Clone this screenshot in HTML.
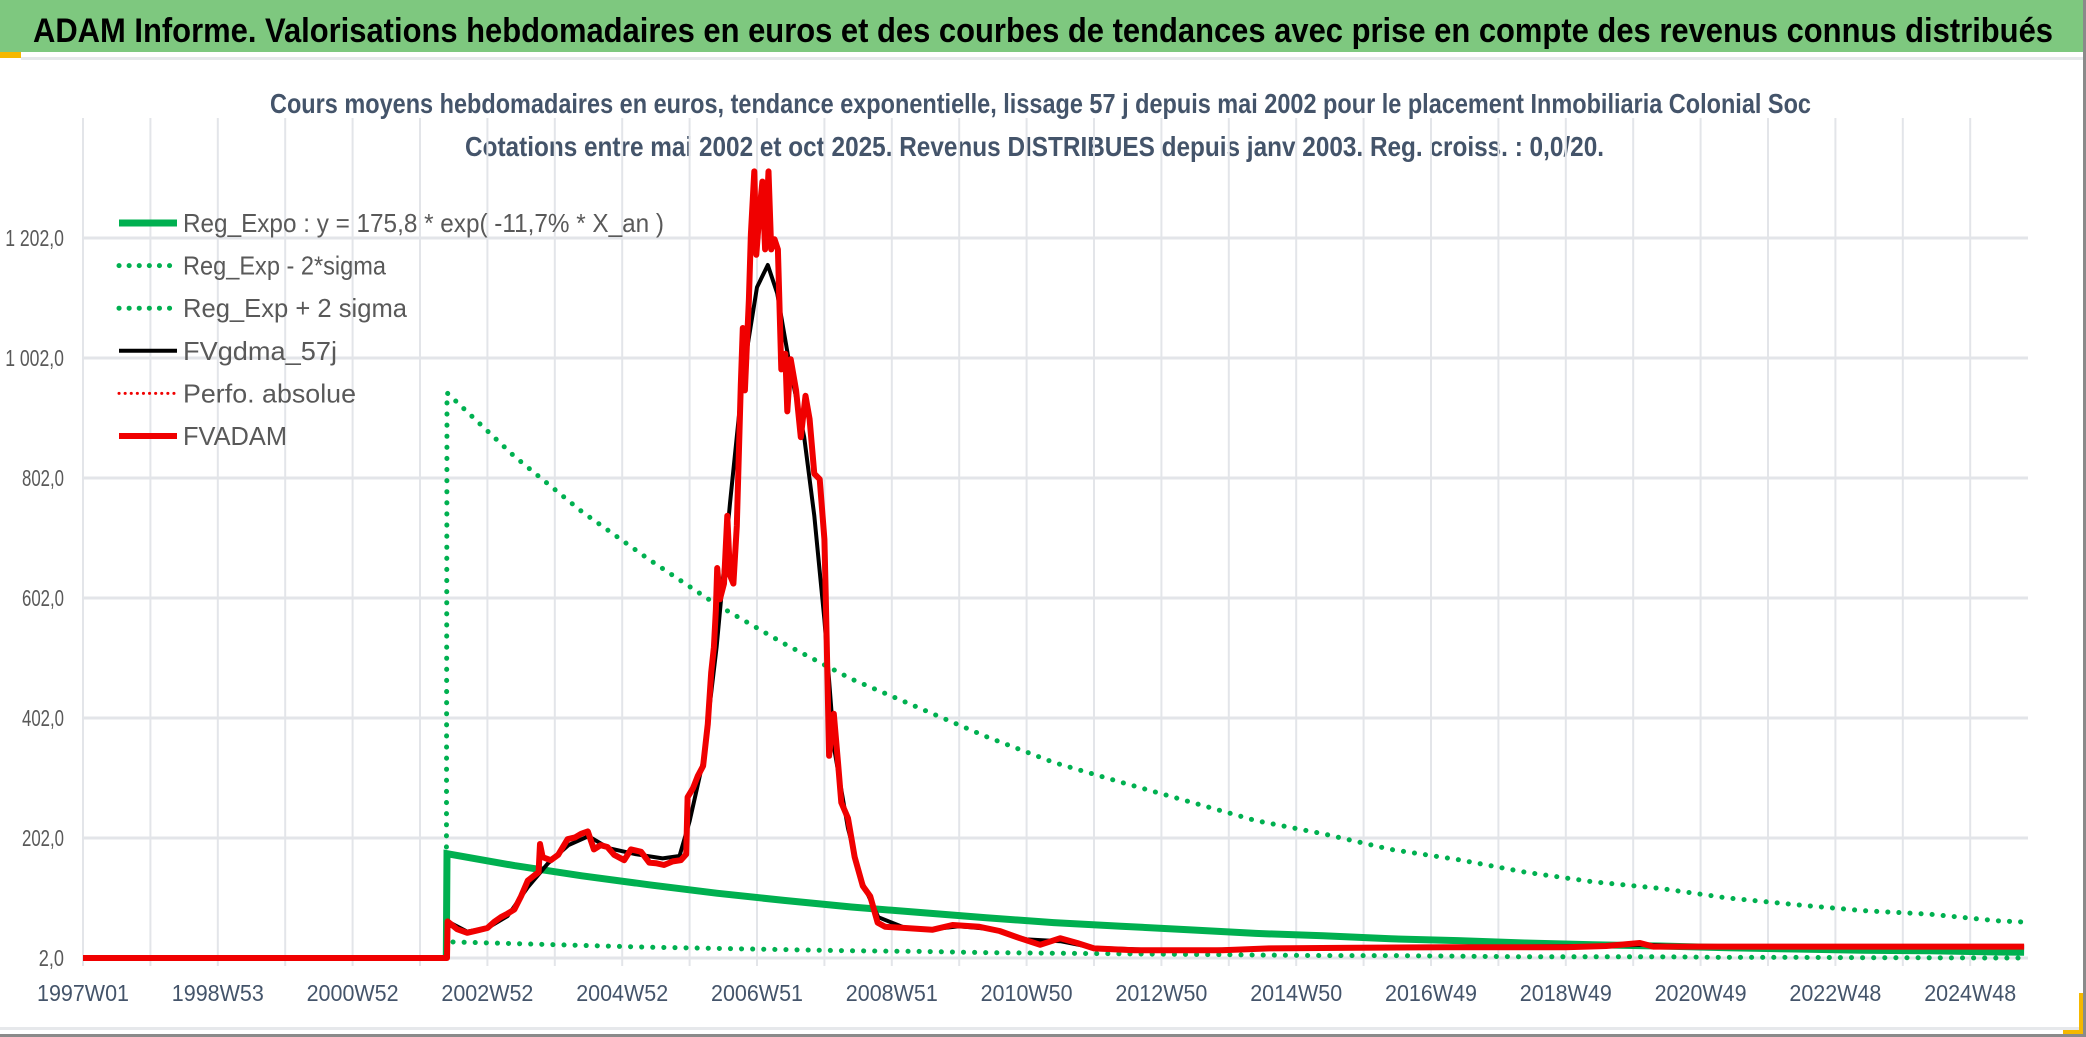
<!DOCTYPE html>
<html><head><meta charset="utf-8"><style>
html,body{margin:0;padding:0;background:#fff;}
svg{display:block;font-family:"Liberation Sans",sans-serif;}
</style></head><body>
<svg id="chart" width="2086" height="1037" viewBox="0 0 2086 1037" xmlns="http://www.w3.org/2000/svg">
<rect x="0" y="0" width="2086" height="1037" fill="#fff"/>
<rect x="0" y="0" width="2086" height="52" fill="#7ec87f"/>
<rect x="0" y="52" width="21" height="6" fill="#f5b800"/>
<rect x="21" y="57" width="2065" height="3" fill="#e6e8eb"/>
<text x="33" y="42" font-size="34" font-weight="bold" fill="#000" textLength="2020" lengthAdjust="spacingAndGlyphs">ADAM Informe. Valorisations hebdomadaires en euros et des courbes de tendances avec prise en compte des revenus connus distribués</text>
<text x="270" y="113" font-size="28" font-weight="bold" fill="#44546a" textLength="1541" lengthAdjust="spacingAndGlyphs">Cours moyens hebdomadaires en euros, tendance exponentielle, lissage 57 j depuis mai 2002 pour le placement Inmobiliaria Colonial Soc</text>
<text x="465" y="156" font-size="28" font-weight="bold" fill="#44546a" textLength="1139" lengthAdjust="spacingAndGlyphs">Cotations entre mai 2002 et oct 2025. Revenus DISTRIBUES depuis janv 2003. Reg. croiss. : 0,0/20.</text>
<g id="grid"></g>
<g id="axes"></g>
<defs><clipPath id="plotclip"><rect x="83" y="118" width="1946" height="845"/></clipPath></defs>
<g id="series" clip-path="url(#plotclip)"></g>
<g id="legend"></g>
<rect x="0" y="1027" width="2086" height="3" fill="#e6e8eb"/>
<rect x="0" y="1034" width="2086" height="3" fill="#8a8a8a"/>
<rect x="2083" y="0" width="3" height="1037" fill="#8a8a8a"/>
<rect x="2063" y="1030" width="20" height="4" fill="#f5b800"/>
<rect x="2079" y="993" width="4" height="40" fill="#f5b800"/>
</svg>
<script>
const yTicks = [2, 202, 402, 602, 802, 1002, 1202];
const yTickLabels = ["2,0", "202,0", "402,0", "602,0", "802,0", "1 002,0", "1 202,0"];
const xTickYears = [1997, 1999, 2001, 2003, 2005, 2007, 2009, 2011, 2013, 2015, 2017, 2019, 2021, 2023, 2025];
const xTickLabels = ["1997W01", "1998W53", "2000W52", "2002W52", "2004W52", "2006W51", "2008W51", "2010W50", "2012W50", "2014W50", "2016W49", "2018W49", "2020W49", "2022W48", "2024W48"];

const regYears = [2002.39, 2002.4, 2003.4, 2004.4, 2005.4, 2006.4, 2007.4, 2008.4, 2009.4, 2010.4, 2011.4, 2012.4, 2013.4, 2014.4, 2015.4, 2016.4, 2017.4, 2018.4, 2019.4, 2020.4, 2021.4, 2022.4, 2023.4, 2024.4, 2025.4, 2025.8];
const regExpo = [2, 175.8, 156, 139, 124, 110, 98, 87, 78, 69, 61, 55, 49, 43, 39, 34, 31, 27, 24, 22, 19, 17, 15, 14, 12, 11.5];
const regMinus = [2, 29, 26, 23, 20, 18, 16, 14, 13, 11, 10, 9, 8, 7, 6, 6, 5, 4, 4, 4, 3, 3, 2.5, 2.3, 2, 2];
const regPlus = [2, 944, 838, 746, 666, 591, 526, 467, 419, 371, 328, 295, 263, 231, 209, 183, 166, 145, 129, 118, 102, 91, 81, 75, 64, 62];

const blackYears = [1997.0, 2002.4, 2002.41, 2002.7, 2003.0, 2003.3, 2003.6, 2003.9, 2004.2, 2004.5, 2004.8, 2005.2, 2005.6, 2005.85, 2006.0, 2006.2, 2006.4, 2006.6, 2006.8, 2007.0, 2007.16, 2007.3, 2007.5, 2007.7, 2007.85, 2008.0, 2008.15, 2008.35, 2008.55, 2008.8, 2009.2, 2009.6, 2010.0, 2010.5, 2011.0, 2011.5, 2012.0, 2013.0, 2015.0, 2017.0, 2019.5, 2020.2, 2021.0, 2025.8];
const blackVals = [2, 2, 63, 46, 52, 72, 120, 160, 190, 205, 185, 175, 168, 172, 230, 330, 520, 760, 980, 1120, 1157, 1110, 980, 870, 739, 566, 348, 218, 131, 70, 52, 50, 55, 50, 33, 30, 19, 15, 18, 20, 22, 24, 21, 21];

const redYears = [1997.0, 2002.40, 2002.41, 2002.55, 2002.7, 2002.85, 2003.0, 2003.1, 2003.2, 2003.3, 2003.4, 2003.5, 2003.6, 2003.7, 2003.76, 2003.78, 2003.82, 2003.94, 2004.05, 2004.19, 2004.3, 2004.39, 2004.49, 2004.58, 2004.68, 2004.78, 2004.88, 2005.03, 2005.13, 2005.28, 2005.4, 2005.5, 2005.62, 2005.75, 2005.87, 2005.95, 2005.97, 2006.05, 2006.12, 2006.2, 2006.27, 2006.32, 2006.36, 2006.39, 2006.41, 2006.45, 2006.51, 2006.56, 2006.6, 2006.65, 2006.7, 2006.76, 2006.79, 2006.82, 2006.88, 2006.91, 2006.96, 2006.99, 2007.04, 2007.08, 2007.12, 2007.17, 2007.21, 2007.26, 2007.31, 2007.36, 2007.42, 2007.45, 2007.5, 2007.58, 2007.65, 2007.72, 2007.78, 2007.85, 2007.93, 2008.0, 2008.02, 2008.07, 2008.14, 2008.2, 2008.25, 2008.35, 2008.45, 2008.57, 2008.68, 2008.79, 2008.9, 2009.2, 2009.6, 2009.9, 2010.3, 2010.6, 2010.9, 2011.2, 2011.5, 2011.75, 2012.0, 2012.6, 2013.9, 2014.6, 2015.9, 2017.2, 2019.0, 2019.6, 2020.1, 2020.3, 2022.0, 2025.8];
const redVals = [2, 2, 63, 50, 44, 48, 52, 62, 70, 76, 83, 105, 131, 140, 145, 192, 170, 165, 174, 200, 203, 209, 213, 183, 190, 187, 174, 165, 183, 179, 161, 160, 157, 163, 165, 175, 270, 285, 305, 322, 392, 478, 520, 583, 652, 600, 626, 739, 640, 626, 722, 957, 1052, 948, 1100, 1209, 1313, 1174, 1250, 1296, 1183, 1313, 1183, 1200, 1183, 983, 1009, 913, 1000, 948, 870, 939, 900, 809, 800, 700, 609, 339, 409, 330, 261, 235, 170, 122, 105, 61, 54, 52, 49, 57, 54, 47, 35, 24, 35, 27, 18, 15, 15, 18, 19, 20, 20, 22, 27, 21, 21, 21];

const legendLabels = ["Reg_Expo : y = 175,8 * exp( -11,7% *  X_an )", "Reg_Exp - 2*sigma", "Reg_Exp + 2 sigma", "FVgdma_57j", "Perfo. absolue", "FVADAM"];

const NS = "http://www.w3.org/2000/svg";
const X0 = 83, PX_PER_YEAR = 67.4, Y0 = 958, PX_PER_UNIT = 0.6, PLOT_TOP = 118, PLOT_RIGHT = 2028;
function xs(year){ return X0 + (year - 1997) * PX_PER_YEAR; }
function ys(v){ return Y0 - (v - 2) * PX_PER_UNIT; }
function mk(tag, attrs, parent){ const e = document.createElementNS(NS, tag); for (const k in attrs) e.setAttribute(k, attrs[k]); parent.appendChild(e); return e; }

const grid = document.getElementById('grid');
const axes = document.getElementById('axes');
const series = document.getElementById('series');
const legend = document.getElementById('legend');

for (let yr = 1997; yr <= 2025; yr++) {
  const gx = mk('line', {x1: xs(yr), x2: xs(yr), y1: PLOT_TOP, y2: Y0 + 8, stroke: '#e3e5e9', 'stroke-width': 2}, grid);
  
  
}
yTicks.forEach((v, i) => {
  const gl = mk('line', {x1: X0, x2: PLOT_RIGHT, y1: ys(v), y2: ys(v), stroke: '#e3e5e9', 'stroke-width': 3}, grid);
  
  
  const lab = yTickLabels[i];
  const t = mk('text', {x: 64, y: ys(v) + 8, 'font-size': 23, fill: '#595959', 'text-anchor': 'end', textLength: lab.length * 8.4, lengthAdjust: 'spacingAndGlyphs'}, axes);
  t.textContent = lab;
  
  
});
xTickYears.forEach((yr, i) => {
  const t = mk('text', {x: xs(yr), y: 1001, 'font-size': 23, fill: '#44546a', 'text-anchor': 'middle', textLength: 92, lengthAdjust: 'spacingAndGlyphs'}, axes);
  t.textContent = xTickLabels[i];
  
  
});

function pathD(years, vals){ return years.map((y, i) => (i ? 'L' : 'M') + xs(y).toFixed(1) + ',' + ys(vals[i]).toFixed(1)).join(' '); }

const pPlus = mk('path', {d: pathD(regYears, regPlus), fill: 'none', stroke: '#00b050', 'stroke-width': 5, 'stroke-dasharray': '0.1 11', 'stroke-linecap': 'round'}, series);


const pMinus = mk('path', {d: pathD(regYears, regMinus), fill: 'none', stroke: '#00b050', 'stroke-width': 5, 'stroke-dasharray': '0.1 11', 'stroke-linecap': 'round'}, series);


const pReg = mk('path', {d: pathD(regYears, regExpo), fill: 'none', stroke: '#00b050', 'stroke-width': 7}, series);


const pBlack = mk('path', {d: pathD(blackYears, blackVals), fill: 'none', stroke: '#000', 'stroke-width': 4, 'stroke-linejoin': 'round'}, series);


const pRed = mk('path', {d: pathD(redYears, redVals), fill: 'none', stroke: '#f00000', 'stroke-width': 6, 'stroke-linejoin': 'round'}, series);



const legendStyles = [
  {stroke: '#00b050', w: 7, dash: null},
  {stroke: '#00b050', w: 5, dash: '0.1 10'},
  {stroke: '#00b050', w: 5, dash: '0.1 10'},
  {stroke: '#000', w: 4, dash: null},
  {stroke: '#f00000', w: 3, dash: '0.1 6'},
  {stroke: '#f00000', w: 6, dash: null}
];
const legendWidths = [481, 203, 224, 154, 173, 104];
legendLabels.forEach((lab, i) => {
  const cy = 223 + i * 42.6;
  const s = legendStyles[i];
  const attrs = {x1: 119, x2: 177, y1: cy, y2: cy, stroke: s.stroke, 'stroke-width': s.w};
  if (s.dash) { attrs['stroke-dasharray'] = s.dash; attrs['stroke-linecap'] = 'round'; }
  const ln = mk('line', attrs, legend);
  
  
  const t = mk('text', {x: 183, y: cy + 9, 'font-size': 26, fill: '#595959', textLength: legendWidths[i], lengthAdjust: 'spacingAndGlyphs'}, legend);
  t.textContent = lab;
  
  
});
</script>
</body></html>
